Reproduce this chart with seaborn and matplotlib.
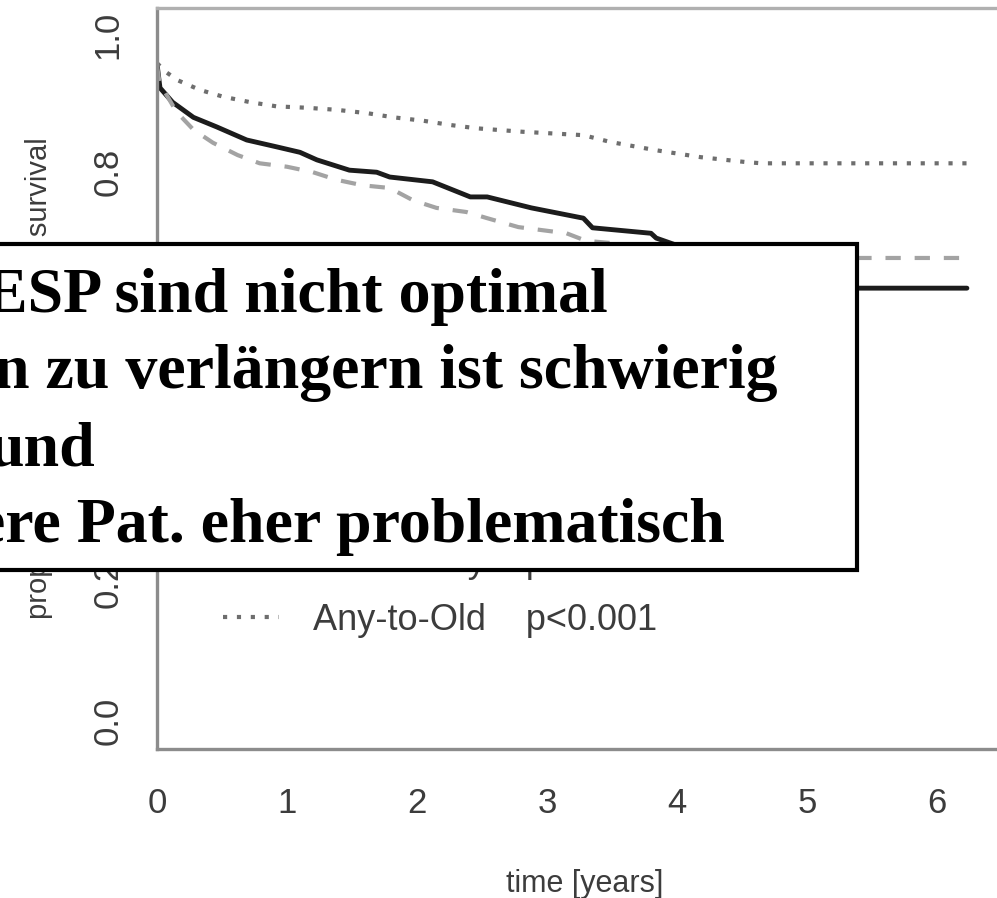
import matplotlib
matplotlib.use("Agg")
import matplotlib.pyplot as plt
from matplotlib import font_manager
from matplotlib.lines import Line2D
from matplotlib.patches import Rectangle
import pandas as pd
import seaborn as sns

# Kaplan-Meier estimates per donor/recipient group (time in years)
t_old_old = [0, 0.023, 0.12, 0.28, 0.46, 0.69, 0.92, 1.10, 1.23, 1.48, 1.69, 1.79,
             2.12, 2.41, 2.54, 2.88, 3.28, 3.35, 3.80, 3.84, 4.2, 4.6, 5.0, 5.3, 6.23]
s_old_old = [0.958, 0.923, 0.902, 0.880, 0.866, 0.847, 0.837, 0.829, 0.818, 0.803, 0.800, 0.793,
             0.786, 0.764, 0.764, 0.748, 0.733, 0.719, 0.711, 0.704, 0.68, 0.655, 0.64, 0.631, 0.631]

t_old_any = [0, 0.02, 0.15, 0.28, 0.43, 0.62, 0.79, 1.0, 1.2, 1.38, 1.58, 1.79, 1.97,
             2.15, 2.38, 2.54, 2.78, 3.15, 3.3, 3.6, 4.2, 4.8, 5.3, 6.25]
s_old_any = [0.955, 0.93, 0.888, 0.862, 0.843, 0.825, 0.813, 0.808, 0.800, 0.789, 0.781, 0.777, 0.759,
             0.748, 0.742, 0.733, 0.720, 0.711, 0.700, 0.695, 0.688, 0.680, 0.675, 0.675]

t_any_old = [0, 0.077, 0.16, 0.33, 0.51, 0.72, 0.92, 1.15, 1.38, 1.62, 1.82, 2.05, 2.25,
             2.46, 2.81, 3.28, 3.49, 3.84, 4.18, 4.52, 4.65, 6.26]
s_any_old = [0.959, 0.945, 0.934, 0.920, 0.910, 0.902, 0.896, 0.894, 0.891, 0.886, 0.880, 0.875, 0.869,
             0.864, 0.859, 0.854, 0.844, 0.832, 0.822, 0.815, 0.813, 0.813]

groups = ["Old-to-Old", "Old-to-Any", "Any-to-Old"]
p_values = ["", "p=0.002", "p<0.001"]
y_ticks = [0.0, 0.2, 0.4, 0.6, 0.8, 1.0]
x_ticks = [0, 1, 2, 3, 4, 5, 6]

box_lines = [
    "ESP sind nicht optimal",
    "n zu verlängern ist schwierig",
    "und",
    "ere Pat. eher problematisch",
]

sns.set_style("white")
plt.rcParams["lines.scale_dashes"] = False
installed = {f.name for f in font_manager.fontManager.ttflist}
sans = "Liberation Sans Narrow" if "Liberation Sans Narrow" in installed else "Liberation Sans"
plt.rcParams["font.family"] = [sans, "DejaVu Sans"]

frames = []
for name, t, s in [(groups[0], t_old_old, s_old_old),
                   (groups[1], t_old_any, s_old_any),
                   (groups[2], t_any_old, s_any_old)]:
    frames.append(pd.DataFrame({"time": t, "surv": s, "group": name}))
df = pd.concat(frames, ignore_index=True)

styles = {
    "Old-to-Old": dict(color="#1c1c1c", linewidth=3.5, linestyle="-"),
    "Old-to-Any": dict(color="#a3a3a3", linewidth=3.0, linestyle=(0, (11, 10))),
    "Any-to-Old": dict(color="#6e6e6e", linewidth=3.0, linestyle=(0, (3.0, 7.0))),
}

fig = plt.figure(figsize=(9.97, 8.98), dpi=100)
ax = fig.add_axes([157 / 997, 149 / 898, 856 / 997, 741 / 898])

for name in groups:
    sns.lineplot(data=df[df["group"] == name], x="time", y="surv", ax=ax,
                 estimator=None, sort=False, legend=False, **styles[name])

ax.set_xlim(0, 856 / 130)
ax.set_ylim(-0.0408, 1.0394)
ax.set_xticks(x_ticks)
ax.set_xticklabels([str(v) for v in x_ticks])
ax.set_yticks(y_ticks)
ax.set_yticklabels([f"{v:.1f}" for v in y_ticks], rotation=90, va="center")

axis_grey = "#8c8c8c"
for side in ["left", "bottom", "top", "right"]:
    ax.spines[side].set_color(axis_grey)
    ax.spines[side].set_linewidth(2.4)
ax.spines["top"].set_color("#b0b0b0")

ax.tick_params(axis="both", direction="out", length=12.5, width=2.2, color=axis_grey,
               labelsize=25, labelcolor="#3c3c3c")
ax.tick_params(axis="x", pad=15)
ax.tick_params(axis="y", pad=11)

ax.set_xlabel("time [years]", fontsize=22, color="#3c3c3c")
ax.xaxis.set_label_coords(0.5, -0.162)
ax.set_ylabel("proportion of death-censored survival", fontsize=21, color="#3c3c3c")
ax.yaxis.set_label_coords(-0.122, 0.5)

handles = [Line2D([], [], **styles[g]) for g in groups]
labels = [f"{g}    {p}".rstrip() for g, p in zip(groups, p_values)]
ax.legend(handles, labels, loc="upper left", bbox_to_anchor=(222 / 997 + 0.001, 1 - 488 / 898),
          bbox_transform=fig.transFigure, frameon=False, fontsize=26,
          handlelength=1.55, handletextpad=0.95, labelspacing=0.62,
          borderpad=0.0, borderaxespad=0.0, labelcolor="#3c3c3c")

# overlay text box
fig.patches.append(Rectangle((-0.05, (898 - 570) / 898), 0.05 + 857 / 997, (570 - 244) / 898,
                             transform=fig.transFigure, facecolor="white",
                             edgecolor="black", linewidth=3.0, zorder=10))
line_right = [608, 777, 95, 725]
line_base = [312, 388, 465, 542]
for txt, xr, yb in zip(box_lines, line_right, line_base):
    fig.text(xr / 997, 1 - yb / 898, txt, ha="right", va="baseline",
             fontsize=46, fontweight="bold", family=["Liberation Serif", "DejaVu Serif"],
             color="black", zorder=11)

fig.savefig("out.png", dpi=100)
